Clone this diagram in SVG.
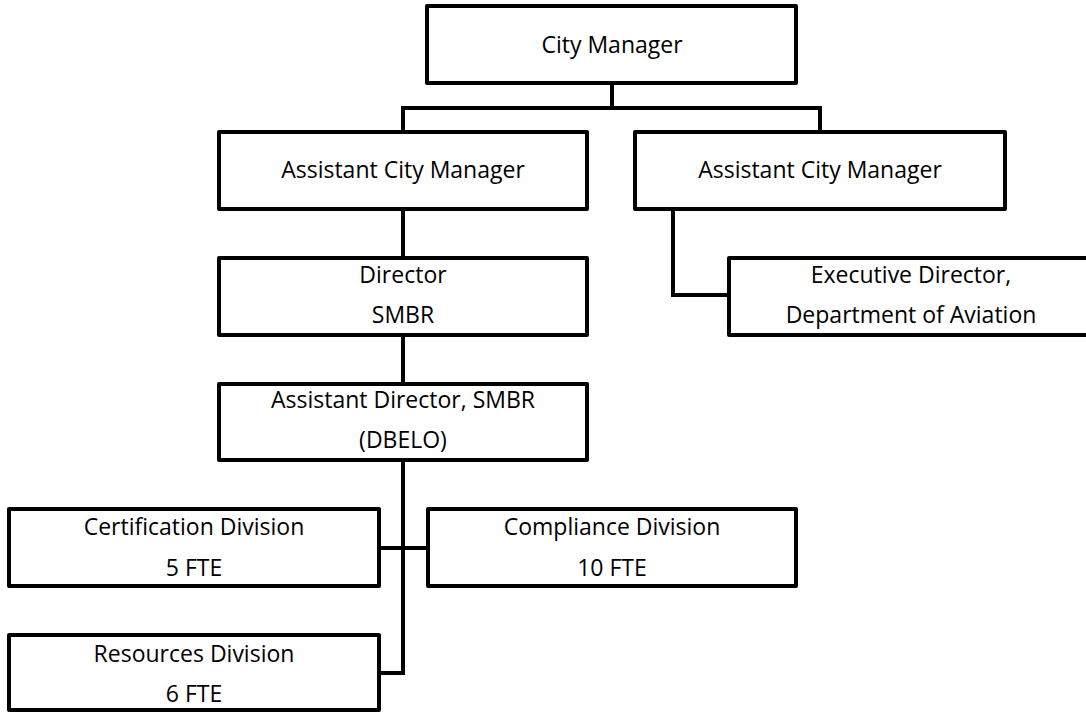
<svg xmlns="http://www.w3.org/2000/svg" width="1086" height="713" viewBox="0 0 1086 713">
<style>
.box{fill:#fff;stroke:#000;stroke-width:4;stroke-linejoin:round}
.c{fill:none;stroke:#000;stroke-width:4;stroke-linejoin:miter}
text{font-family:"Open Sans","Liberation Sans",sans-serif;font-size:23px;fill:#000;text-anchor:middle}
</style>
<rect width="1086" height="713" fill="#fff"/>
<g id="connectors">
<path class="c" d="M612 83V108M403 132V108H820V132"/>
<path class="c" d="M403 209V258"/>
<path class="c" d="M673 209V295H729"/>
<path class="c" d="M403 335V384"/>
<path class="c" d="M403 460V673H379"/>
<path class="c" d="M379 548H428"/>
</g>
<g id="city-manager">
<rect class="box" x="427" y="6" width="369" height="77"/>
<text x="612" y="53">City Manager</text>
</g>
<g id="acm-left">
<rect class="box" x="219" y="132" width="368" height="77"/>
<text x="403" y="178">Assistant City Manager</text>
</g>
<g id="acm-right">
<rect class="box" x="635" y="132" width="370" height="77"/>
<text x="820" y="178">Assistant City Manager</text>
</g>
<g id="director">
<rect class="box" x="219" y="258" width="368" height="77"/>
<text x="403" y="283">Director</text>
<text x="403" y="323">SMBR</text>
</g>
<g id="exec-director">
<rect class="box" x="729" y="258" width="364" height="77"/>
<text x="911" y="283">Executive Director,</text>
<text x="911" y="323">Department of Aviation</text>
</g>
<g id="assistant-director">
<rect class="box" x="219" y="384" width="368" height="76"/>
<text x="403" y="408">Assistant Director, SMBR</text>
<text x="403" y="448">(DBELO)</text>
</g>
<g id="certification">
<rect class="box" x="9" y="509" width="370" height="77"/>
<text x="194" y="535">Certification Division</text>
<text x="194" y="576">5 FTE</text>
</g>
<g id="compliance">
<rect class="box" x="428" y="509" width="368" height="77"/>
<text x="612" y="535">Compliance Division</text>
<text x="612" y="576">10 FTE</text>
</g>
<g id="resources">
<rect class="box" x="9" y="635" width="370" height="75"/>
<text x="194" y="662">Resources Division</text>
<text x="194" y="702">6 FTE</text>
</g>
</svg>
